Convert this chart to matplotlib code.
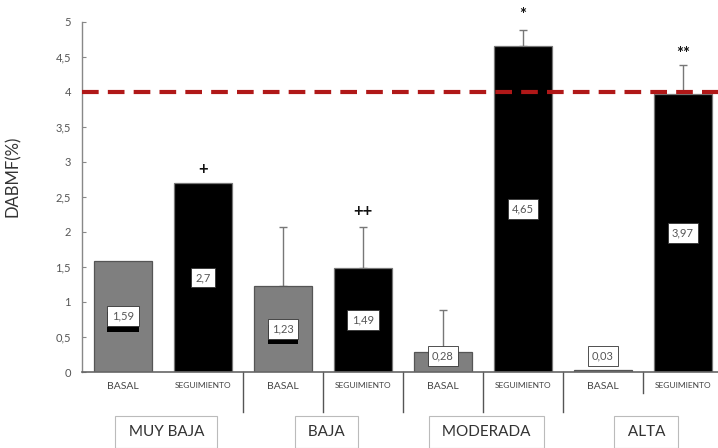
import matplotlib
matplotlib.use("Agg")
import matplotlib.pyplot as plt
import matplotlib.patheffects as pe
import numpy as np

plt.rcParams['font.family'] = ['Lato', 'DejaVu Sans']

groups = ["MUY BAJA", "BAJA", "MODERADA", "ALTA"]
phases = ["BASAL", "SEGUIMIENTO"]
values = [1.59, 2.7, 1.23, 1.49, 0.28, 4.65, 0.03, 3.97]
value_labels = ["1,59", "2,7", "1,23", "1,49", "0,28", "4,65", "0,03", "3,97"]
err_up = [0, 0, 0.84, 0.58, 0.60, 0.24, 0, 0.42]
marks = ["", "+", "", "++", "", "*", "", "**"]
mark_y = [0, 2.9, 0, 2.3, 0, 5.1, 0, 4.55]
reference = 4.0
yticks = [0, 0.5, 1, 1.5, 2, 2.5, 3, 3.5, 4, 4.5, 5]
ytick_labels = ["0", "0,5", "1", "1,5", "2", "2,5", "3", "3,5", "4", "4,5", "5"]

fig = plt.figure(figsize=(7.18, 4.48), dpi=100)
ax = fig.add_axes([82/718, 76/448, 1 - 82/718, 350/448])

x = np.arange(len(values))
colors = ['#7f7f7f' if i % 2 == 0 else '#000000' for i in x]
edges = ['#555555' if i % 2 == 0 else '#777777' for i in x]
ax.bar(x, values, width=0.72, color=colors, edgecolor=edges, linewidth=0.9, zorder=2)

for i in x:
    if err_up[i] > 0:
        ax.errorbar(x[i], values[i], yerr=[[0], [err_up[i]]], fmt='none',
                    ecolor='#777777', elinewidth=1, capsize=3, capthick=1, zorder=1)

for i in x:
    yv = max(values[i] / 2, 0.23)
    t = ax.text(x[i], yv, value_labels[i], ha='center', va='center', fontsize=8,
                color='#555555', zorder=4,
                bbox=dict(boxstyle='square,pad=0.4', fc='white', ec='#333333', lw=0.6))
    if i % 2 == 0 and values[i] > 0.5:
        t.get_bbox_patch().set_path_effects([pe.withSimplePatchShadow(offset=(0, -4), shadow_rgbFace='black', alpha=1)])

for i in x:
    if marks[i]:
        ax.text(x[i], mark_y[i], marks[i], ha='center', va='center', fontsize=12,
                fontweight='bold', color='#111111', clip_on=False, zorder=5)

ax.axhline(reference, color='#b01818', lw=3, dashes=(4, 2.2), zorder=3)

ax.set_xlim(-0.5125, 7.4375)
ax.set_ylim(0, 5)
ax.set_yticks(yticks)
ax.set_yticklabels(ytick_labels, fontsize=8, color='#555555')
ax.tick_params(axis='y', direction='in', length=3, color='#888888', pad=8)

ax.set_xticks(x)
ax.set_xticklabels([phases[i % 2] for i in x], color='#444444')
for i, lab in enumerate(ax.get_xticklabels()):
    lab.set_fontsize(7.5 if i % 2 == 0 else 6)
ax.tick_params(axis='x', length=0, pad=7)

for s in ['top', 'right']:
    ax.spines[s].set_visible(False)
ax.spines['left'].set_color('#888888')
ax.spines['bottom'].set_color('#666666')
ax.spines['left'].set_linewidth(1)
ax.spines['bottom'].set_linewidth(1.2)

ax.set_ylabel("DABMF(%)", fontsize=12, color='#333333')
ax.yaxis.set_label_coords(-0.096, 0.56)

trans = ax.get_xaxis_transform()
seps = [1.5, 2.5, 3.5, 4.5, 5.5, 6.5]
for k, s in enumerate(seps):
    bottom = -0.06 if k == len(seps) - 1 else -0.114
    ax.plot([s, s], [0, bottom], color='#555555', lw=1, transform=trans, clip_on=False)

for g, name in enumerate(groups):
    ax.text(2 * g + 0.54, -0.171, " " + name + " ", transform=trans, ha='center', va='center',
            fontsize=11, color='#333333',
            bbox=dict(boxstyle='square,pad=0.6', fc='white', ec='#bbbbbb', lw=0.8))

fig.savefig("out.png", dpi=100)
